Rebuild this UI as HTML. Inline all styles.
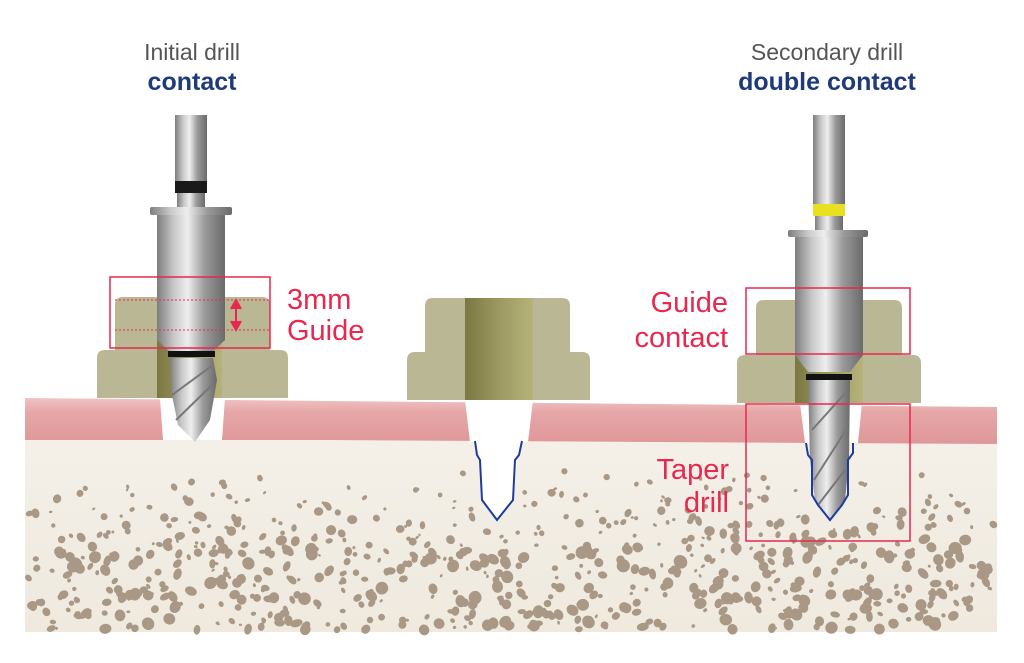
<!DOCTYPE html>
<html><head><meta charset="utf-8"><style>
body{margin:0;background:#fff;width:1024px;height:663px;overflow:hidden}
svg{display:block}
text{font-family:"Liberation Sans",sans-serif}
</style></head><body>
<svg id="s" width="1024" height="663" viewBox="0 0 1024 663" xmlns="http://www.w3.org/2000/svg">
<defs>
<linearGradient id="metal" x1="0" x2="1" y1="0" y2="0">
<stop offset="0" stop-color="#7d7d7d"/><stop offset="0.25" stop-color="#c9c9c9"/><stop offset="0.45" stop-color="#eeeeee"/><stop offset="0.7" stop-color="#9a9a9a"/><stop offset="1" stop-color="#6a6a6a"/></linearGradient>
<linearGradient id="olive" x1="0" x2="1"><stop offset="0" stop-color="#7a7840"/><stop offset="0.5" stop-color="#9c9a62"/><stop offset="1" stop-color="#b5b27a"/></linearGradient>
<linearGradient id="gum" x1="0" x2="0" y1="0" y2="1"><stop offset="0" stop-color="#f1c3c3"/><stop offset="0.3" stop-color="#e6a7a8"/><stop offset="1" stop-color="#df9799"/></linearGradient>
<linearGradient id="bone" x1="0" x2="0" y1="0" y2="1"><stop offset="0" stop-color="#f4f0e8"/><stop offset="1" stop-color="#efe9de"/></linearGradient>
</defs>
<rect x="25" y="440" width="972" height="192" fill="url(#bone)"/>
<g id="pores"></g>
<path d="M25 398 L328 401 L655 404 L997 407 L997 444 L655 442 L328 440 L25 440Z" fill="url(#gum)"/>

<!-- LEFT -->
<path d="M160 398 H225 L222 440 H163Z" fill="#fff"/>
<path d="M115 305 Q115 297 123 297 H262 Q270 297 270 305 V350 H115Z" fill="#b9b794"/>
<path d="M97 358 Q97 350 105 350 H280 Q288 350 288 358 V398 H97Z" fill="#b9b794"/>
<rect x="157" y="297" width="65" height="101" fill="url(#olive)"/>
<rect x="175" y="115" width="32" height="70" fill="url(#metal)"/>
<rect x="175" y="181" width="32" height="12" fill="#1a1a1a"/>
<rect x="177" y="193" width="28" height="14" fill="url(#metal)"/>
<rect x="150" y="207" width="82" height="8" rx="2" fill="url(#metal)"/>
<path d="M157 215 H225 V340 L212 352 H170 L157 340Z" fill="url(#metal)"/>
<rect x="168" y="351" width="47" height="6" fill="#111"/>
<path d="M170 358 H213 L217 380 L210 420 L195 442 L178 425 L172 395Z" fill="url(#metal)"/>
<path d="M172 395 L213 365 M176 420 L212 385" stroke="#777" stroke-width="2" fill="none"/>
<line x1="115" y1="300" x2="270" y2="300" stroke="#e8284e" stroke-width="1" stroke-dasharray="2,2"/>
<line x1="115" y1="330" x2="270" y2="330" stroke="#e8284e" stroke-width="1" stroke-dasharray="2,2"/>
<path d="M236 302 V328 M231 309 L236 300 L241 309 M231 321 L236 330 L241 321" stroke="#e8284e" stroke-width="2" fill="#e8284e"/>
<rect x="110" y="277" width="160" height="71" fill="none" stroke="#e8284e" stroke-width="1.5"/>
<text x="287" y="309" font-size="29" fill="#e8284e">3mm</text>
<text x="287" y="340" font-size="29" fill="#e8284e">Guide</text>
<text x="192" y="60" font-size="23" fill="#555" text-anchor="middle">Initial drill</text>
<text x="192" y="90" font-size="25" font-weight="bold" fill="#1f3a7a" text-anchor="middle">contact</text>

<!-- MIDDLE -->
<path d="M465 400 H533 L528 442 H470Z" fill="#fff"/>
<path d="M475 441 L480 460 L482 500 L498 520 L514 500 L517 460 L522 441 Z" fill="#fff"/>
<path d="M475 441 L477 455 L480 460 L482 500 L497 520 L513 500 L515 460 L519 455 L522 441" fill="none" stroke="#1f3aa0" stroke-width="2"/>
<path d="M425 306 Q425 298 433 298 H562 Q570 298 570 306 V352 H425Z" fill="#b9b794"/>
<path d="M407 360 Q407 352 415 352 H582 Q590 352 590 360 V400 H407Z" fill="#b9b794"/>
<rect x="465" y="298" width="68" height="102" fill="url(#olive)"/>

<!-- RIGHT -->
<path d="M800 403 H862 L858 443 H805Z" fill="#fff"/>
<path d="M756 308 Q756 300 764 300 H894 Q902 300 902 308 V355 H756Z" fill="#b9b794"/>
<path d="M737 363 Q737 355 745 355 H913 Q921 355 921 363 V403 H737Z" fill="#b9b794"/>
<rect x="795" y="300" width="68" height="103" fill="url(#olive)"/>
<rect x="813" y="115" width="32" height="92" fill="url(#metal)"/>
<rect x="813" y="204" width="32" height="12" fill="#e8e020"/>
<rect x="815" y="216" width="28" height="14" fill="url(#metal)"/>
<rect x="788" y="230" width="80" height="7" rx="2" fill="url(#metal)"/>
<path d="M795 237 H863 V355 L850 372 H808 L795 355Z" fill="url(#metal)"/>
<rect x="806" y="374" width="46" height="6" fill="#111"/>
<path d="M808 380 H850 L849 460 L845 500 L830 522 L815 500 L810 460Z" fill="url(#metal)"/>
<path d="M812 430 L848 390 M814 480 L846 430 M818 505 L845 470" stroke="#777" stroke-width="2" fill="none"/>
<path d="M806 443 L808 455 L812 460 L812 495 L818 505 L830 520 L842 505 L848 495 L848 460 L853 453 L853 443" fill="none" stroke="#1f3aa0" stroke-width="2"/>
<rect x="746" y="288" width="164" height="66" fill="none" stroke="#e8284e" stroke-width="1.5"/>
<rect x="746" y="404" width="164" height="137" fill="none" stroke="#e8284e" stroke-width="1.5"/>
<text x="728" y="312" font-size="29" fill="#e8284e" text-anchor="end">Guide</text>
<text x="728" y="347" font-size="29" fill="#e8284e" text-anchor="end">contact</text>
<text x="729" y="479" font-size="29" fill="#e8284e" text-anchor="end">Taper</text>
<text x="729" y="512" font-size="29" fill="#e8284e" text-anchor="end">drill</text>
<text x="827" y="60" font-size="23" fill="#555" text-anchor="middle">Secondary drill</text>
<text x="827" y="90" font-size="25" font-weight="bold" fill="#1f3a7a" text-anchor="middle">double contact</text>
</svg>
<script>
(function(){
var g=document.getElementById('pores'),s=1234567;
function r(){s=(s*16807)%2147483647;return s/2147483647;}
var h='';
for(var i=0;i<1000;i++){
 var x=28+r()*966,y=470+r()*160;
 var d=(y-470)/160;
 if(r()>Math.min(1,d*2+0.08))continue;
 if(Math.abs(x-497)<25&&y<525)continue;
 if(Math.abs(x-830)<24&&y<525)continue;
 var rx=1.5+r()*5*Math.min(1,d*1.3+0.35),ry=rx*(0.6+r()*0.5);
 h+='<ellipse cx="'+x.toFixed(1)+'" cy="'+y.toFixed(1)+'" rx="'+rx.toFixed(1)+'" ry="'+ry.toFixed(1)+'" transform="rotate('+(r()*180|0)+' '+x.toFixed(1)+' '+y.toFixed(1)+')" fill="#a99885"/>';
}
g.innerHTML=h;
})();
</script>
</body></html>
